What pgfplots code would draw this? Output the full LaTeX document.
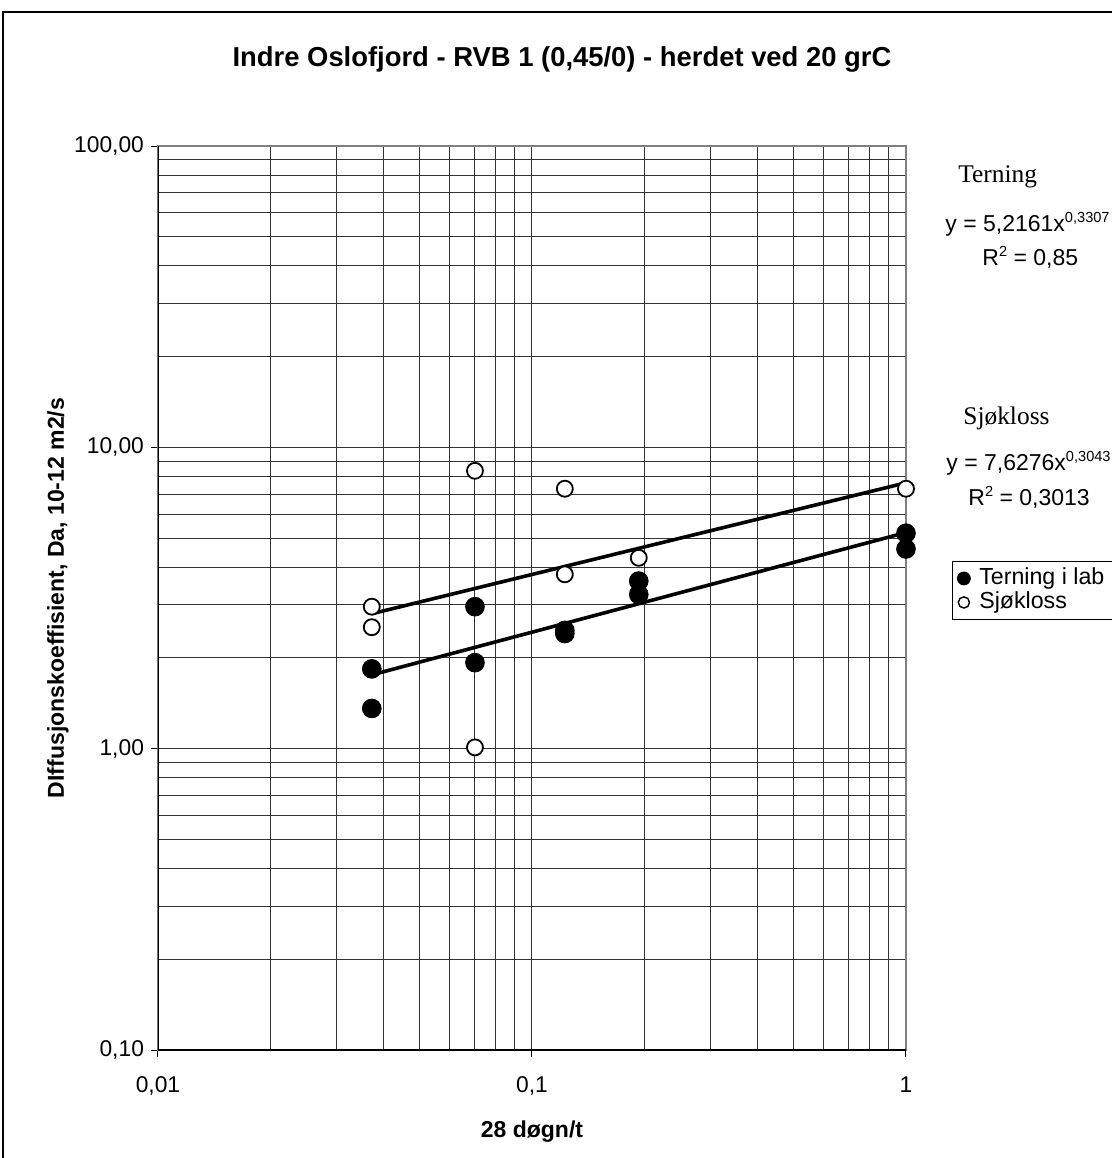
\documentclass[border=0pt]{standalone}
\usepackage{fontspec}
\setmainfont{Liberation Sans}
\newfontfamily\timesfont{Liberation Serif}
\usepackage{pgfplots}
\pgfplotsset{compat=1.18}
\newcommand{\myexp}[1]{\raisebox{4.2pt}{\fontsize{7.3}{8}\selectfont #1}}

\begin{document}
\begin{tikzpicture}
\begin{axis}[
  at={(79pt,-525pt)}, anchor=south west,
  scale only axis, width=374pt, height=452pt,
  xmode=log, ymode=log,
  xmin=0.01, xmax=1, ymin=0.1, ymax=100,
  xtick={0.01,0.1,1}, xticklabels={{0,01},{0,1},{1}},
  ytick={0.1,1,10,100}, yticklabels={{0,10},{1,00},{10,00},{100,00}},
  minor xtick={0.02,0.03,0.04,0.05,0.06,0.07,0.08,0.09,0.2,0.3,0.4,0.5,0.6,0.7,0.8,0.9},
  minor ytick={0.2,0.3,0.4,0.5,0.6,0.7,0.8,0.9,2,3,4,5,6,7,8,9,20,30,40,50,60,70,80,90},
  grid=both,
  major grid style={black!80, line width=0.5pt},
  minor grid style={black!80, line width=0.5pt},
  tick align=outside, tick pos=left,
  major tick length=3.5pt, minor tick length=0pt,
  tick style={black, line width=0.5pt},
  axis line style={draw=gray, line width=1.2pt},
  ticklabel style={font=\fontsize{11.4}{13}\selectfont},
  xticklabel style={yshift=-6.5pt},
  legend style={at={(1.0615,0.541)}, anchor=north west, draw=black, line width=0.5pt,
    font=\fontsize{11.6}{12}\selectfont, inner xsep=2.5pt, inner ysep=2.5pt, row sep=0pt,
    nodes={inner xsep=1.5pt, inner ysep=0.5pt, text height=8.6pt, text depth=2.4pt},
    /tikz/every odd column/.append style={column sep=3pt}},
  legend cell align=left,
]
\addplot[only marks, mark=*, mark size=4.7pt, draw=black, fill=black,
  legend image post style={mark size=3.2pt}] coordinates {
  (0.0373,1.84) (0.0373,1.36)
  (0.0704,2.96) (0.0704,1.93)
  (0.1224,2.47) (0.1224,2.41)
  (0.193,3.60) (0.193,3.25)
  (1,5.19) (1,4.60)
};
\addlegendentry{Terning i lab}
\addplot[only marks, mark=*, mark size=4.0pt, line width=0.9pt, draw=black, fill=white,
  legend image post style={mark size=2.8pt, line width=0.7pt}] coordinates {
  (0.0373,2.96) (0.0373,2.53)
  (0.0704,8.36) (0.0704,1.01)
  (0.1224,7.29) (0.1224,3.79)
  (0.193,4.30)
  (1,7.29)
};
\addlegendentry{Sjøkloss}
\addplot[black, line width=1.8pt, forget plot] coordinates {(0.0373,1.758) (1,5.2161)};
\addplot[black, line width=1.8pt, forget plot] coordinates {(0.0373,2.804) (1,7.6276)};
\draw[black, line width=0.8pt] (rel axis cs:0,1) -- (rel axis cs:0,0) -- (rel axis cs:1,0);
\end{axis}
\begin{scope}[x=0.5pt,y=-0.5pt]
\draw[black, line width=0.8pt] (3,12) rectangle (1140,1190);
\node[font=\bfseries\fontsize{13.7}{16}\selectfont] at (562,59.5) {Indre Oslofjord - RVB 1 (0,45/0) - herdet ved 20 grC};
\node[rotate=90, font=\bfseries\fontsize{11.5}{13}\selectfont] at (58,598) {DIffusjonskoeffisient, Da, 10-12 m2/s};
\node[font=\bfseries\fontsize{11.5}{13}\selectfont] at (532,1132) {28 døgn/t};
\node[anchor=west, inner sep=0pt, font=\timesfont\fontsize{12.7}{14}\selectfont] at (958,177) {Terning};
\node[anchor=base west, inner sep=0pt, font=\fontsize{11.5}{13}\selectfont] at (945,231) {y = 5,2161x\myexp{0,3307}};
\node[anchor=base west, inner sep=0pt, font=\fontsize{11.5}{13}\selectfont] at (982,265) {R\myexp{2} = 0,85};
\node[anchor=west, inner sep=0pt, font=\timesfont\fontsize{12.7}{14}\selectfont] at (963,418) {Sjøkloss};
\node[anchor=base west, inner sep=0pt, font=\fontsize{11.5}{13}\selectfont] at (946,470) {y = 7,6276x\myexp{0,3043}};
\node[anchor=base west, inner sep=0pt, font=\fontsize{11.5}{13}\selectfont] at (968,505) {R\myexp{2} = 0,3013};
\end{scope}
\pgfresetboundingbox
\path[use as bounding box] (0pt,0pt) rectangle (556pt,-579pt);
\end{tikzpicture}
\end{document}
